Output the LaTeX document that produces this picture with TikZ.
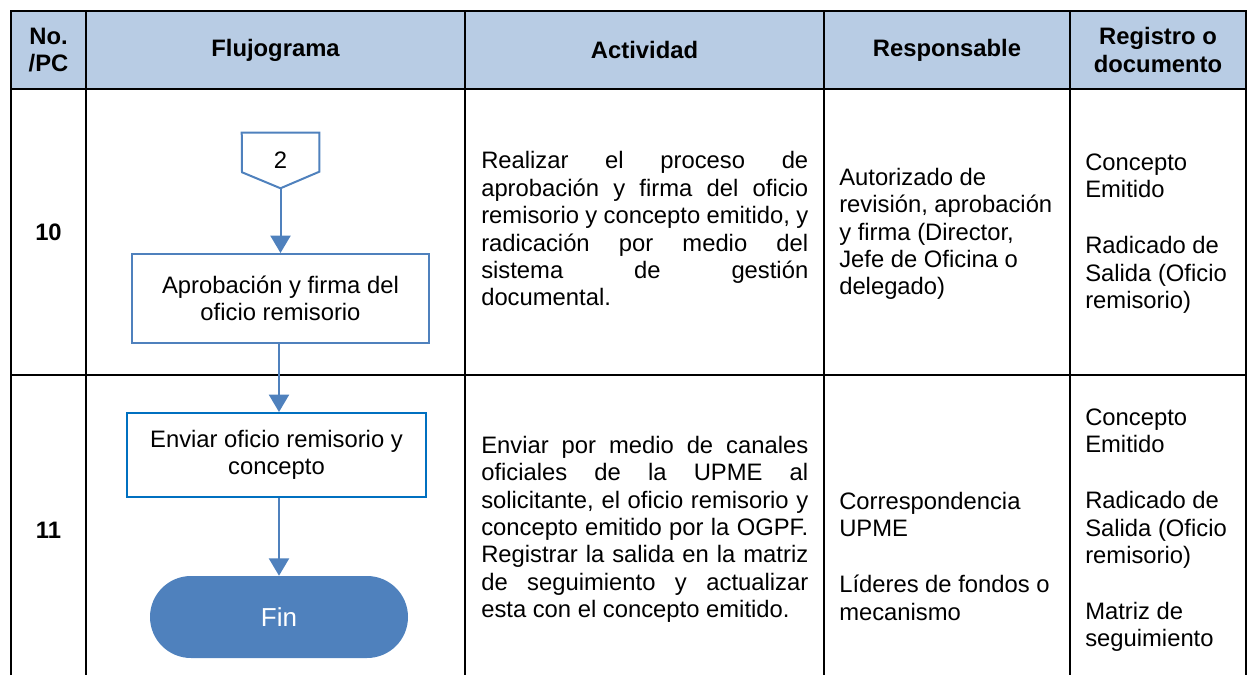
\documentclass[tikz,border=0pt]{standalone}
\usepackage{fontspec}
\setmainfont{Liberation Sans}
\usetikzlibrary{arrows.meta}
\definecolor{hdr}{HTML}{B8CCE4}
\definecolor{flow}{HTML}{4F81BD}
\definecolor{flowb}{HTML}{0070C0}
\newcommand\jl[1]{\makebox[245.25pt][s]{#1}}
\newcommand\fl{\rule{0pt}{17pt}}
\begin{document}
\begin{tikzpicture}[x=0.75pt,y=-0.75pt,
  tbl/.style={line width=1.7pt, black},
  body/.style={font=\fontsize{17.85}{20.55}\selectfont, inner sep=0pt, anchor=north west, align=left},
  head/.style={font=\fontsize{17.85}{20.55}\selectfont\bfseries, inner sep=0pt, align=center},
  fbox/.style={draw=flow, line width=1.5pt, fill=white, align=center, inner sep=0pt, font=\fontsize{17.85}{20.55}\selectfont},
  arr/.style={draw=flow, line width=1.5pt, -{Triangle[length=13pt 0 0,width=15pt 0 0]}}]
\useasboundingbox (0,0) rectangle (1248,675);
% table
\fill[hdr] (11,11) rectangle (1246,89);
\draw[tbl] (11,675) -- (11,11) -- (1246,11) -- (1246,675);
\draw[tbl] (11,89) -- (1246,89);
\draw[tbl] (11,375) -- (1246,375);
\foreach \x in {86,465,824,1070} \draw[tbl] (\x,11) -- (\x,675);
% header
\node[head] (h1) at (48.5,50) {No.\\/PC};
\node[head] (h2) at (275.5,50) {Flujograma};
\node[head] (h3) at (644.5,50) {Actividad};
\node[head] (h4) at (947,50) {Responsable};
\node[head] (h5) at (1158,50) {Registro o\\documento};
% row numbers
\node[head] (n10) at (48.5,232) {10};
\node[head] (n11) at (48.5,530) {11};
% flowchart
\node[inner sep=0pt, minimum width=57.75pt, minimum height=41.25pt, font=\fontsize{17.85}{20.55}\selectfont] (conn) at (280.5,160.5) {2};
\draw[flow, line width=1.5pt] (conn.north west) -- (conn.north east) -- ++(0,39) -- (conn.south) -- ++(-38.5,-16) -- cycle;
\node[fbox, minimum width=222.75pt, minimum height=66.75pt] (b1) at (280.5,298.5) {Aprobación y firma del\\oficio remisorio};
\node[fbox, draw=flowb, minimum width=224.25pt, minimum height=63pt] (b2) at (276.5,455) {Enviar oficio remisorio y\\concepto};
\node[fill=flow, rounded corners=30.75pt, minimum width=193.5pt, minimum height=61.5pt, inner sep=0pt, text=white, font=\fontsize{19.5}{22}\selectfont] (fin) at (279,617) {Fin};
\draw[arr] (conn.south) -- (conn.south |- b1.north);
\draw[arr] (b1.south -| fin.north) -- (b2.north -| fin.north);
\draw[arr] (b2.south -| fin.north) -- (fin.north);
% actividad
\node[body] (a10) at (481,146) {\fl\jl{Realizar el proceso de}\\\jl{aprobación y firma del oficio}\\\jl{remisorio y concepto emitido, y}\\\jl{radicación por medio del}\\\jl{sistema de gestión}\\documental.};
\node[body] (a11) at (481,430.3) {\fl\jl{Enviar por medio de canales}\\\jl{oficiales de la UPME al}\\\jl{solicitante, el oficio remisorio y}\\\jl{concepto emitido por la OGPF.}\\\jl{Registrar la salida en la matriz}\\\jl{de seguimiento y actualizar}\\esta con el concepto emitido.};
% responsable
\node[body] (r10) at (839,162.3) {\fl Autorizado de\\revisión, aprobación\\y firma (Director,\\Jefe de Oficina o\\delegado)};
\node[body] (r11) at (839,486.3) {\fl Correspondencia\\UPME\\[21.5pt]Líderes de fondos o\\mecanismo};
% registro
\node[body] (g10) at (1085,147.3) {\fl Concepto\\Emitido\\[21.5pt]Radicado de\\Salida (Oficio\\remisorio)};
\node[body] (g11) at (1085,402.3) {\fl Concepto\\Emitido\\[21.5pt]Radicado de\\Salida (Oficio\\remisorio)\\[21.5pt]Matriz de\\seguimiento};
\end{tikzpicture}
\end{document}
